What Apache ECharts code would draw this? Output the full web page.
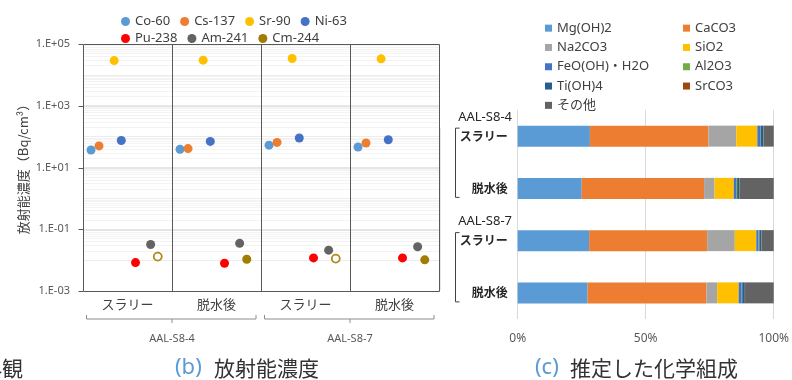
<!DOCTYPE html>
<html><head><meta charset="utf-8">
<script src="https://cdn.jsdelivr.net/npm/echarts@6/dist/echarts.min.js"></script>
<style>html,body{margin:0;padding:0;background:#fff}#c{width:792px;height:380px}</style>
</head><body><div id="c"></div>
<script>
// ---------- data: (b) radioactivity ----------
const sampleGroups = ['AAL-S8-4', 'AAL-S8-7'];
const conditions = ['スラリー', '脱水後', 'スラリー', '脱水後'];
const nuclides = ['Co-60', 'Cs-137', 'Sr-90', 'Ni-63', 'Pu-238', 'Am-241', 'Cm-244'];
const co60  = [37, 39, 53, 46];
const cs137 = [50, 41, 65, 62];
const sr90  = [29000, 30000, 34000, 33000];
const ni63  = [75, 70, 90, 79];
const pu238 = [0.0083, 0.0079, 0.0118, 0.0118];
const am241 = [0.032, 0.035, 0.021, 0.027];
const cm244 = [0.013, 0.0107, 0.0112, 0.0102];
const cm244Open = [true, false, true, false];
const yTickLabels = ['1.E-03', '1.E-01', '1.E+01', '1.E+03', '1.E+05'];

// ---------- data: (c) chemical composition (%) ----------
const compCategories = ['AAL-S8-4|スラリー', 'AAL-S8-4|脱水後', 'AAL-S8-7|スラリー', 'AAL-S8-7|脱水後'];
const compounds = ['Mg(OH)2', 'CaCO3', 'Na2CO3', 'SiO2', 'FeO(OH)・H2O', 'Al2O3', 'Ti(OH)4', 'SrCO3', 'その他'];
const mgoh2  = [28.2, 25.0, 27.9, 27.3];
const caco3  = [46.3, 47.8, 46.1, 46.4];
const na2co3 = [10.9, 4.1, 10.8, 4.2];
const sio2   = [8.2, 7.5, 8.4, 8.4];
const feooh  = [1.3, 0.9, 0.9, 1.2];
const al2o3  = [0.1, 0.4, 0.3, 0.2];
const tioh4  = [0.9, 0.8, 0.7, 1.0];
const srco3  = [0.1, 0.1, 0.1, 0.1];
const other  = [4.0, 13.4, 4.8, 11.2];
const pctTicks = ['0%', '50%', '100%'];

// ---------- styles / layout ----------
const FONT = "'Noto Sans', 'Noto Sans CJK JP', sans-serif";
const JP = "'Noto Sans CJK JP', 'Noto Sans', sans-serif";
const nucValues = [co60, cs137, sr90, ni63, pu238, am241, cm244];
const nucColors = ['#5b9bd5', '#ed7d31', '#ffc000', '#4472c4', '#ff0000', '#636363', '#a07c00'];
const nucOffset = [0.09, 0.18, 0.35, 0.43, 0.59, 0.76, 0.84];
const compValues = [mgoh2, caco3, na2co3, sio2, feooh, al2o3, tioh4, srco3, other];
const compColors = ['#5b9bd5', '#ed7d31', '#a5a5a5', '#ffc000', '#4472c4', '#70ad47', '#255e91', '#9e480e', '#636363'];

const tickValueOf = s => parseFloat(s.replace('.E', 'e'));
const labelMap = {};
yTickLabels.forEach(s => { labelMap[Math.round(Math.log10(tickValueOf(s)))] = s; });

// gridlines for log axis (inside the plot, not on its edges)
const minorLines = [];
for (let e = -3; e <= 4; e++) {
  for (let k = 1; k <= 9; k++) {
    if (e === -3 && k === 1) continue;
    const major = (k === 1) && labelMap[e] !== undefined;
    if (major) continue;
    minorLines.push({ yAxis: k * Math.pow(10, e), lineStyle: { color: k === 1 ? '#ececec' : '#f3f3f3', width: 1, type: 'solid' } });
  }
}
yTickLabels.slice(1, -1).forEach(s => {
  minorLines.push({ yAxis: tickValueOf(s), lineStyle: { color: '#dedede', width: 1.5, type: 'solid' } });
});

const scatterSeries = nuclides.map((name, i) => ({
  type: 'scatter', name, xAxisIndex: 0, yAxisIndex: 0, z: 5,
  symbol: 'circle', symbolSize: 9,
  itemStyle: { color: nucColors[i], opacity: 1 },
  emphasis: { disabled: true },
  data: nucValues[i].map((v, g) => {
    const item = { value: [g + nucOffset[i], v] };
    if (name === 'Cm-244' && cm244Open[g]) {
      item.symbolSize = 8;
      item.itemStyle = { color: '#ffffff', borderColor: '#b08a1a', borderWidth: 1.8 };
    }
    return item;
  }),
  markLine: i === 0 ? { silent: true, symbol: 'none', z: 1, label: { show: false }, data: minorLines } : undefined
}));

const barSeries = compounds.map((name, i) => ({
  type: 'bar', name, stack: 'comp', xAxisIndex: 2, yAxisIndex: 1, barWidth: 21,
  itemStyle: { color: compColors[i] },
  emphasis: { disabled: true },
  data: compValues[i]
}));

const legendText = { fontSize: 13, color: '#404040', fontFamily: FONT };

const option = {
  animation: false,
  backgroundColor: '#ffffff',
  textStyle: { fontFamily: FONT },
  grid: [
    { left: 83, top: 44, width: 356, height: 247, show: false },
    { left: 517.7, top: 110, width: 256.6, height: 209, show: false }
  ],
  legend: [
    { data: nuclides.slice(0, 4), left: 116, top: 10, icon: 'circle', itemWidth: 9, itemHeight: 9, itemGap: 10,
      textStyle: Object.assign({ width: 56 }, legendText), selectedMode: false },
    { data: nuclides.slice(4), left: 116, top: 27, icon: 'circle', itemWidth: 9, itemHeight: 9, itemGap: 10,
      textStyle: Object.assign({ width: 56 }, legendText), selectedMode: false },
    { data: [compounds[0], compounds[2], compounds[4], compounds[6], compounds[8]], orient: 'vertical',
      left: 540, top: 16, icon: 'rect', itemWidth: 7, itemHeight: 7, itemGap: 5,
      textStyle: Object.assign({ lineHeight: 14.3 }, legendText), selectedMode: false },
    { data: [compounds[1], compounds[3], compounds[5], compounds[7]], orient: 'vertical',
      left: 678, top: 16, icon: 'rect', itemWidth: 7, itemHeight: 7, itemGap: 5,
      textStyle: Object.assign({ lineHeight: 14.3 }, legendText), selectedMode: false }
  ],
  xAxis: [
    { type: 'value', gridIndex: 0, min: 0, max: 4, interval: 1,
      axisLine: { show: false }, axisTick: { show: false }, axisLabel: { show: false },
      splitLine: { show: false } },
    { type: 'category', gridIndex: 0, position: 'bottom', data: conditions.map((c, i) => i + '|' + c),
      axisLine: { show: false }, axisTick: { show: false }, splitLine: { show: false },
      axisLabel: { fontSize: 13, color: '#404040', margin: 7, fontFamily: JP, formatter: v => v.split('|')[1] } },
    { type: 'value', gridIndex: 1, min: 0, max: 100, interval: 50,
      axisLine: { show: false }, axisTick: { show: false },
      axisLabel: { fontSize: 12, color: '#595959', margin: 14, formatter: v => pctTicks[Math.round(v / 50)] },
      splitLine: { show: true, lineStyle: { color: '#d9d9d9', width: 1 } } }
  ],
  yAxis: [
    { type: 'log', logBase: 10, gridIndex: 0, min: 0.001, max: 100000, interval: 1,
      axisLine: { show: false }, axisTick: { show: false },
      axisLabel: { fontSize: 11, color: '#595959', margin: 13,
        formatter: v => { const e = Math.round(Math.log10(v)); return labelMap[e] !== undefined ? labelMap[e] : ''; } },
      splitLine: { show: false } },
    { type: 'category', gridIndex: 1, inverse: true, data: compCategories,
      axisLine: { show: false }, axisTick: { show: false }, splitLine: { show: false },
      axisLabel: { fontSize: 12, fontWeight: 'bold', color: '#262626', margin: 10, fontFamily: JP,
        formatter: v => v.split('|')[1] } }
  ],
  series: scatterSeries.concat(barSeries)
};

const chart = echarts.init(document.getElementById('c'), null, { renderer: 'canvas' });
chart.setOption(option);

// ---------- annotations positioned from the axes ----------
const g = [];
const px = v => chart.convertToPixel({ xAxisIndex: 0 }, v);
const py = v => chart.convertToPixel({ yAxisIndex: 0 }, v);
const lineStyle = { stroke: '#8c8c8c', lineWidth: 1, fill: null };

// plot frame and group dividers on top of gridlines
const L = Math.round(px(0)) + 0.5, R = Math.round(px(4)) + 0.5;
const T = Math.round(py(100000)) + 0.5, B = Math.round(py(0.001)) + 0.5;
g.push({ type: 'rect', shape: { x: L, y: T, width: R - L, height: B - T }, style: { stroke: '#595959', lineWidth: 1, fill: null }, z: 10, silent: true });
for (let k = 1; k < conditions.length; k++) {
  const x = Math.round(px(k)) + 0.5;
  g.push({ type: 'line', shape: { x1: x, y1: T, x2: x, y2: B }, style: { stroke: '#595959', lineWidth: 1 }, z: 10, silent: true });
}

// y ticks at labelled decades
yTickLabels.forEach(s => {
  const y = Math.round(py(tickValueOf(s))) + 0.5;
  g.push({ type: 'line', shape: { x1: L - 5, y1: y, x2: L, y2: y }, style: { stroke: '#595959', lineWidth: 1 }, silent: true });
});

// sample brackets under (b)
const gridBottom = py(0.001);
sampleGroups.forEach((name, k) => {
  const x1 = px(2 * k) + 3.5, x2 = px(2 * k + 2) - 5, xc = px(2 * k + 1);
  const y = gridBottom + 28;
  g.push({ type: 'polyline', shape: { points: [[x1, y - 4], [x1, y], [x2, y], [x2, y - 4]] }, style: lineStyle, silent: true });
  g.push({ type: 'line', shape: { x1: xc, y1: y, x2: xc, y2: y + 4 }, style: lineStyle, silent: true });
  g.push({ type: 'text', x: xc, y: gridBottom + 48, style: { text: name, fontSize: 11, fill: '#595959', fontFamily: FONT, align: 'center', verticalAlign: 'middle' }, silent: true });
});

// y axis title (b)
g.push({ type: 'text', x: 23, y: 166, rotation: Math.PI / 2,
  style: { text: '放射能濃度（Bq/cm³）', fontSize: 13, fill: '#404040', fontFamily: JP, align: 'center', verticalAlign: 'middle' }, silent: true });

// sample labels & brackets for (c)
const cy = key => chart.convertToPixel({ yAxisIndex: 1 }, key);
sampleGroups.forEach((name, k) => {
  const yA = cy(compCategories[2 * k]), yB = cy(compCategories[2 * k + 1]);
  g.push({ type: 'text', x: 512, y: yA - 19, style: { text: name, fontSize: 13, fill: '#262626', fontFamily: FONT, align: 'right', verticalAlign: 'middle' }, silent: true });
  const bx = 455.5;
  g.push({ type: 'polyline', shape: { points: [[bx + 4, yA - 8], [bx, yA - 8], [bx, yB + 9], [bx + 4, yB + 9]] }, style: { stroke: '#404040', lineWidth: 1, fill: null }, silent: true });
});

// panel captions
g.push({ type: 'text', x: 23, y: 368, style: { text: '外観', fontSize: 21, fill: '#333333', fontFamily: JP, align: 'right', verticalAlign: 'middle' }, silent: true });
g.push({ type: 'text', x: 175, y: 368, style: { text: '(b)', fontSize: 22, fill: '#5b9bd5', fontFamily: FONT, verticalAlign: 'middle' }, silent: true });
g.push({ type: 'text', x: 214, y: 368, style: { text: '放射能濃度', fontSize: 21, fill: '#333333', fontFamily: JP, verticalAlign: 'middle' }, silent: true });
g.push({ type: 'text', x: 535, y: 368, style: { text: '(c)', fontSize: 22, fill: '#5b9bd5', fontFamily: FONT, verticalAlign: 'middle' }, silent: true });
g.push({ type: 'text', x: 570, y: 368, style: { text: '推定した化学組成', fontSize: 21, fill: '#333333', fontFamily: JP, verticalAlign: 'middle' }, silent: true });
// faint panel edge at right of image (a)
g.push({ type: 'line', shape: { x1: 440.5, y1: 128, x2: 440.5, y2: 290 }, style: { stroke: '#e6e6e6', lineWidth: 1 }, silent: true });

chart.setOption({ graphic: g });
</script>
</body></html>
